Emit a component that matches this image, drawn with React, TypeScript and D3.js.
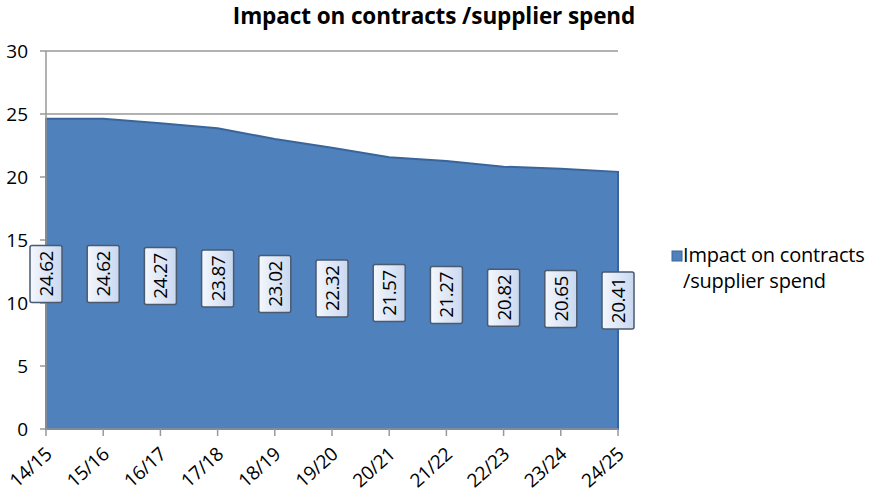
import React from "react";
import * as d3 from "d3";

const categories = ["14/15","15/16","16/17","17/18","18/19","19/20","20/21","21/22","22/23","23/24","24/25"];
const values = [24.62,24.62,24.27,23.87,23.02,22.32,21.57,21.27,20.82,20.65,20.41];
const yTicks = [0,5,10,15,20,25,30];
const seriesName = ["Impact on contracts", "/supplier spend"];
const title = "Impact on contracts /supplier spend";

export default function App() {
  const W = 869, H = 495;
  const left = 46, right = 618, top = 51, bottom = 429;
  const x = d3.scalePoint<string>().domain(categories).range([left, right]);
  const y = d3.scaleLinear().domain([0, 30]).range([bottom, top]);
  const area = d3.area<number>()
    .x((_, i) => x(categories[i]) as number)
    .y0(y(0))
    .y1(d => y(d));
  const font = "'Open Sans', 'DejaVu Sans', sans-serif";
  return (
    <svg width={W} height={H} style={{ position: "absolute", left: 0, top: 0, background: "#fff" }} fontFamily={font}>
      <defs>
        <linearGradient id="lbl" x1="0" x2="1" y1="0" y2="0">
          <stop offset="0" stopColor="#f4f7fd" />
          <stop offset="1" stopColor="#c9d8f0" />
        </linearGradient>
      </defs>
      <text x={434} y={24} textAnchor="middle" fontWeight="bold" fontSize={22.5} letterSpacing={-0.1} fill="#000">{title}</text>
      {yTicks.map(t => (
        <g key={t}>
          {t > 0 && <line x1={left} x2={right} y1={y(t)} y2={y(t)} stroke="#999" strokeWidth={1.5} />}
          <line x1={left - 6} x2={left} y1={y(t)} y2={y(t)} stroke="#999" strokeWidth={1.5} />
          <text x={28} y={y(t) + 7} textAnchor="end" fontSize={19} fill="#000">{t}</text>
        </g>
      ))}
      <path d={area(values) || ""} fill="#4f81bd" stroke="#3a659a" strokeWidth={2} />
      <line x1={left} x2={left} y1={top} y2={bottom} stroke="#999" strokeWidth={1.5} />
      <line x1={left} x2={right} y1={bottom} y2={bottom} stroke="#999" strokeWidth={1.5} />
      {categories.map(c => (
        <g key={c}>
          <line x1={x(c)} x2={x(c)} y1={bottom} y2={bottom + 7} stroke="#999" strokeWidth={1.5} />
          <text transform={`translate(${(x(c) as number) + 7},${bottom + 27}) rotate(-42)`} textAnchor="end" fontSize={19} letterSpacing={-0.4} fill="#000">{c}</text>
        </g>
      ))}
      {values.map((v, i) => {
        const cx = x(categories[i]) as number;
        const cy = y(v / 2);
        const bw = 32, bh = 57;
        return (
          <g key={i}>
            <rect x={cx - bw / 2} y={cy - bh / 2} width={bw} height={bh} rx={2} fill="url(#lbl)" stroke="#4a5a70" strokeWidth={1.5} />
            <text transform={`translate(${cx + 7},${cy}) rotate(-90)`} textAnchor="middle" fontSize={19} letterSpacing={-0.6} fill="#000">{v.toFixed(2)}</text>
          </g>
        );
      })}
      <rect x={672} y={251} width={10} height={10} fill="#4f81bd" stroke="#3a659a" strokeWidth={1} />
      <text x={683} y={262} fontSize={20} letterSpacing={-0.2} fill="#000">{seriesName[0]}</text>
      <text x={683} y={288} fontSize={20} letterSpacing={-0.2} fill="#000">{seriesName[1]}</text>
    </svg>
  );
}
